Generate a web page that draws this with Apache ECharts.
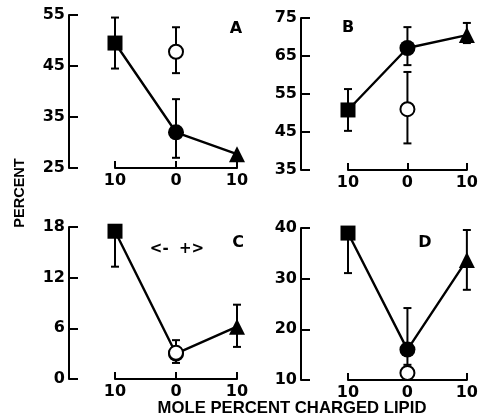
<!DOCTYPE html>
<html><head><meta charset="utf-8">
<script src="https://cdn.jsdelivr.net/npm/echarts@6/dist/echarts.min.js"></script>
<style>html,body{margin:0;padding:0;background:#fff}#c{width:481px;height:420px}</style>
</head><body><div id="c"></div>
<script>
// Categories (x positions: -10, 0, +10 mole percent charged lipid)
const xPositions = [0, 1, 2];
const xTickLabels = ['10', '0', '10'];
const panelLabels = ['A', 'B', 'C', 'D'];

// Y axis ranges per panel
const yMins = [25, 35, 0, 10];
const yMaxs = [55, 75, 18, 40];
const yIntervals = [10, 10, 6, 10];

// Filled series (square, circle, triangle)
const filledA = [49.5, 32, 27.7];
const filledB = [50.8, 67.1, 70.5];
const filledC = [17.5, 3, 6.2];
const filledD = [39, 16, 33.7];

// Filled error bars [low, high] (null = none)
const errA = [[44.5, 54.5], [27, 38.5], null];
const errB = [[45.3, 56.3], [62.6, 72.6], [68.4, 73.7]];
const errC = [[13.3, 17.5], null, [3.8, 8.8]];
const errD = [[31.1, 39], [13, 24.2], [27.8, 39.6]];

// Open circle (at 0) value and error [low, high]
const openVals = [47.8, 51, 3.1, 11.4];
const openErr = [[43.6, 52.6], [42, 60.8], [1.9, 4.6], null];

const filled = [filledA, filledB, filledC, filledD];
const errs = [errA, errB, errC, errD];
const symbols = ['rect', 'circle', 'triangle'];

const FONT = 'DejaVu Sans';
const TFONT = 'Liberation Sans';
// data grids (x axis spans from first to last tick)
const dataGrids = [
  {left: 115, top: 15, width: 122, height: 153},
  {left: 348, top: 18, width: 122, height: 152},
  {left: 115, top: 227, width: 122, height: 152},
  {left: 348, top: 228, width: 122, height: 152}
];
// y axis grid left positions
const yAxisLeft = [69, 301, 69, 301];

function errRender(params, api) {
  const x = api.value(0), lo = api.value(1), hi = api.value(2);
  const p1 = api.coord([x, hi]), p2 = api.coord([x, lo]);
  const w = 4;
  const st = {stroke: '#000', lineWidth: 2};
  return {type: 'group', children: [
    {type: 'line', shape: {x1: p1[0], y1: p1[1], x2: p2[0], y2: p2[1]}, style: st},
    {type: 'line', shape: {x1: p1[0]-w, y1: p1[1], x2: p1[0]+w, y2: p1[1]}, style: st},
    {type: 'line', shape: {x1: p2[0]-w, y1: p2[1], x2: p2[0]+w, y2: p2[1]}, style: st}
  ]};
}

const grid = [], xAxis = [], yAxis = [], series = [];
for (let i = 0; i < 4; i++) {
  grid.push(dataGrids[i]);
  grid.push({left: yAxisLeft[i], top: dataGrids[i].top, width: 10, height: dataGrids[i].height});
}
for (let i = 0; i < 4; i++) {
  const gd = 2 * i, gy = 2 * i + 1;
  xAxis.push({
    gridIndex: gd, type: 'value', min: 0, max: 2, interval: 1,
    axisLine: {lineStyle: {color: '#000', width: 2}},
    axisTick: {inside: true, length: 7, lineStyle: {color: '#000', width: 2}},
    axisLabel: {color: '#000', fontSize: 16, fontWeight: 'bold', fontFamily: FONT, margin: 5,
      formatter: v => xTickLabels[xPositions.indexOf(v)] || ''},
    splitLine: {show: false}
  });
  yAxis.push({
    gridIndex: gd, type: 'value', min: yMins[i], max: yMaxs[i], interval: yIntervals[i],
    show: false, splitLine: {show: false}
  });
  xAxis.push({gridIndex: gy, type: 'value', show: false, min: 0, max: 1, splitLine: {show: false}});
  yAxis.push({
    gridIndex: gy, type: 'value', min: yMins[i], max: yMaxs[i], interval: yIntervals[i],
    axisLine: {show: true, lineStyle: {color: '#000', width: 2}},
    axisTick: {show: true, inside: true, length: 9, lineStyle: {color: '#000', width: 2}},
    axisLabel: {color: '#000', fontSize: 16, fontWeight: 'bold', fontFamily: FONT, margin: 4},
    splitLine: {show: false}
  });
  const ax = 2 * i;
  const eData = [];
  errs[i].forEach((e, k) => { if (e) eData.push([xPositions[k], e[0], e[1]]); });
  if (openErr[i]) eData.push([xPositions[1], openErr[i][0], openErr[i][1]]);
  series.push({type: 'custom', xAxisIndex: ax, yAxisIndex: ax, renderItem: errRender,
    data: eData, clip: false, z: 1});
  series.push({type: 'line', xAxisIndex: ax, yAxisIndex: ax, clip: false, z: 2,
    lineStyle: {color: '#000', width: 2.4},
    itemStyle: {color: '#000'},
    data: filled[i].map((v, k) => ({value: [xPositions[k], v], symbol: symbols[k],
      symbolSize: k === 0 ? 15 : 16})),
    animation: false});
  series.push({type: 'scatter', xAxisIndex: ax, yAxisIndex: ax, clip: false, z: 3,
    symbol: 'circle', symbolSize: 14,
    itemStyle: {color: '#fff', borderColor: '#000', borderWidth: 2, opacity: 1},
    data: [[xPositions[1], openVals[i]]], animation: false});
}

const labelPos = [[236, 29], [348, 28], [238, 243], [425, 243]];
const graphic = panelLabels.map((t, i) => ({type: 'text', x: labelPos[i][0], y: labelPos[i][1],
  style: {text: t, fill: '#000', font: 'bold 16px ' + FONT, textAlign: 'center', textVerticalAlign: 'middle'}}));
graphic.push({type: 'text', x: 177, y: 249, style: {text: '<-  +>', fill: '#000', font: 'bold 15px ' + FONT, textAlign: 'center', textVerticalAlign: 'middle'}});
graphic.push({type: 'text', x: 20, y: 193, rotation: Math.PI / 2,
  style: {text: 'PERCENT', fill: '#000', font: 'bold 14.5px ' + TFONT, textAlign: 'center', textVerticalAlign: 'middle'}});
graphic.push({type: 'text', x: 292, y: 408,
  style: {text: 'MOLE PERCENT CHARGED LIPID', fill: '#000', font: 'bold 16.7px ' + TFONT, textAlign: 'center', textVerticalAlign: 'middle'}});

const chart = echarts.init(document.getElementById('c'), null, {renderer: 'canvas'});
chart.setOption({animation: false, grid, xAxis, yAxis, series, graphic});
</script></body></html>
